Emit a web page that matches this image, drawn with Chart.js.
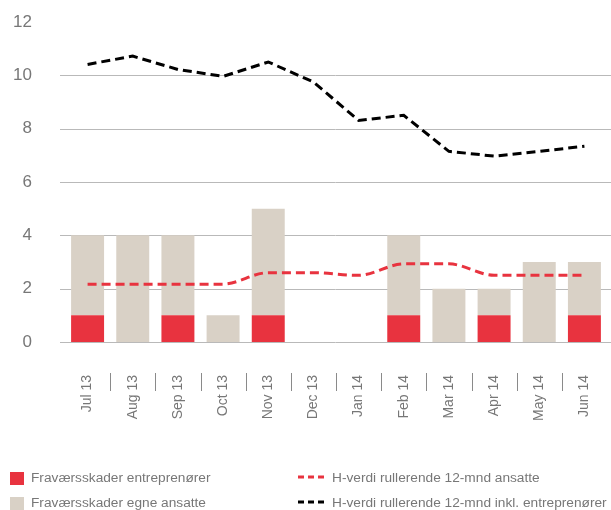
<!DOCTYPE html>
<html>
<head>
<meta charset="utf-8">
<script src="https://cdn.jsdelivr.net/npm/chart.js@4"></script>
<style>
  html, body { margin: 0; padding: 0; background: #fff; }
  #wrap { position: relative; width: 611px; height: 510px; font-family: "Liberation Sans", Arial, sans-serif; }
  canvas { position: absolute; left: 0; top: 0; }
  .leg { position: absolute; font-size: 13.7px; color: #777; white-space: nowrap; line-height: 16px; }
  .box { position: absolute; width: 14px; height: 13px; }
  svg { position: absolute; }
</style>
</head>
<body>
<div id="wrap">
  <canvas id="c" width="611" height="510"></canvas>
  <div class="box" style="left:10px;top:472px;background:#E8333F"></div>
  <div class="leg" style="left:31px;top:470px">Fraværsskader entreprenører</div>
  <div class="box" style="left:10px;top:497px;background:#D9D1C6"></div>
  <div class="leg" style="left:31px;top:495px">Fraværsskader egne ansatte</div>
  <svg style="left:297px;top:474px" width="30" height="6"><line x1="1" y1="3" x2="29" y2="3" stroke="#E8333F" stroke-width="3" stroke-dasharray="6,4"/></svg>
  <div class="leg" style="left:332px;top:470px">H-verdi rullerende 12-mnd ansatte</div>
  <svg style="left:297px;top:499px" width="30" height="6"><line x1="1" y1="3" x2="29" y2="3" stroke="#000" stroke-width="3" stroke-dasharray="6,4"/></svg>
  <div class="leg" style="left:332px;top:495px">H-verdi rullerende 12-mnd inkl. entreprenører</div>
</div>
<script>
const categories = ["Jul 13","Aug 13","Sep 13","Oct 13","Nov 13","Dec 13","Jan 14","Feb 14","Mar 14","Apr 14","May 14","Jun 14"];
const entreprenorer = [1,0,1,0,1,0,0,1,0,1,0,1];
const egneAnsatte   = [3,4,3,1,4,0,0,3,2,1,3,2];
const hAnsatte      = [2.17,2.17,2.17,2.17,2.6,2.6,2.5,2.93,2.93,2.5,2.5,2.5];
const hInkl         = [10.41,10.72,10.22,9.96,10.5,9.75,8.31,8.5,7.15,6.97,7.15,7.34];
const yTicks        = [0,2,4,6,8,10,12];

const gridPlugin = {
  id: 'extGrid',
  beforeDatasetsDraw(chart) {
    const ctx = chart.ctx, y = chart.scales.y;
    ctx.save();
    ctx.strokeStyle = '#b9b9b9';
    ctx.lineWidth = 1;
    yTicks.forEach(v => {
      if (v === 12) return;
      const py = Math.round(y.getPixelForValue(v)) + 0.5;
      ctx.beginPath(); ctx.moveTo(60, py); ctx.lineTo(611, py); ctx.stroke();
    });
    ctx.restore();
  },
  afterDraw(chart) {
    const ctx = chart.ctx, x = chart.scales.x;
    ctx.save();
    ctx.strokeStyle = '#8a8a8a';
    ctx.lineWidth = 1;
    for (let i = 0; i < categories.length - 1; i++) {
      const px = Math.round((x.getPixelForValue(i) + x.getPixelForValue(i + 1)) / 2) + 0.5;
      ctx.beginPath(); ctx.moveTo(px, 373); ctx.lineTo(px, 391); ctx.stroke();
    }
    ctx.restore();
  }
};

new Chart(document.getElementById('c'), {
  type: 'bar',
  data: {
    labels: categories,
    datasets: [
      { type: 'line', label: 'H-verdi rullerende 12-mnd inkl. entreprenører', data: hInkl,
        borderColor: '#000', borderWidth: 3, borderDash: [9,5], pointRadius: 0, tension: 0,
        fill: false, stack: 'l2', order: 0 },
      { type: 'line', label: 'H-verdi rullerende 12-mnd ansatte', data: hAnsatte,
        borderColor: '#E8333F', borderWidth: 3, borderDash: [9,5], pointRadius: 0,
        cubicInterpolationMode: 'monotone', fill: false, stack: 'l1', order: 0 },
      { label: 'Fraværsskader entreprenører', data: entreprenorer, backgroundColor: '#E8333F',
        barPercentage: 0.73, categoryPercentage: 1, stack: 'b', order: 1 },
      { label: 'Fraværsskader egne ansatte', data: egneAnsatte, backgroundColor: '#D9D1C6',
        barPercentage: 0.73, categoryPercentage: 1, stack: 'b', order: 2 }
    ]
  },
  options: {
    responsive: false,
    animation: false,
    layout: { padding: { top: 22, right: 4, left: 0, bottom: 0 } },
    plugins: { legend: { display: false }, tooltip: { enabled: false } },
    scales: {
      x: {
        stacked: true,
        grid: { display: false, drawTicks: false },
        border: { display: false },
        ticks: { minRotation: 90, maxRotation: 90, padding: 33, color: '#777',
                 font: { family: 'Liberation Sans', size: 14 } },
        afterFit(s) { s.height = 168; s.paddingLeft = 0; s.paddingRight = 0; }
      },
      y: {
        stacked: true,
        min: 0, max: 12,
        afterBuildTicks(s) { s.ticks = yTicks.map(v => ({ value: v })); },
        grid: { display: false, drawTicks: false },
        border: { display: false },
        ticks: { padding: 33, color: '#777', font: { family: 'Liberation Sans', size: 17 } },
        afterFit(s) { s.width = 65; s.paddingTop = 0; s.paddingBottom = 0; }
      }
    }
  },
  plugins: [gridPlugin]
});
</script>
</body>
</html>
